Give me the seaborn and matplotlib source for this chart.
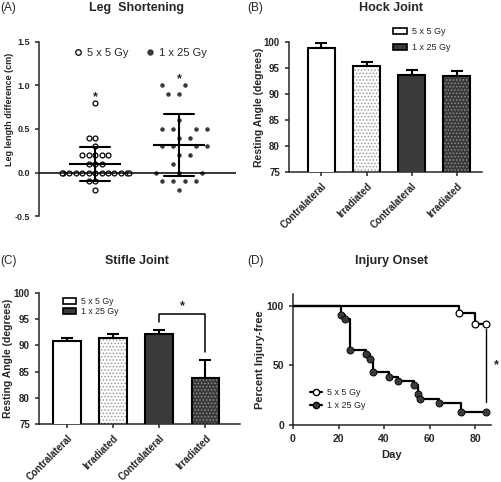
import numpy as np
import pandas as pd
import matplotlib
matplotlib.use('Agg')
import matplotlib.pyplot as plt
from matplotlib.lines import Line2D
from matplotlib.patches import Patch, Rectangle
import seaborn as sns

# ---------------- data ----------------
groups = ['5 x 5 Gy', '1 x 25 Gy']
leg_5x5 = [0.8, 0.4, 0.4, 0.3, 0.2, 0.2, 0.2, 0.2, 0.2, 0.1, 0.1, 0.1,
           0.0, 0.0, 0.0, 0.0, 0.0, 0.0, 0.0, 0.0, 0.0, 0.0, 0.0, 0.0, 0.0,
           -0.1, -0.1, -0.2]
leg_1x25 = [1.0, 1.0, 0.9, 0.9, 0.6, 0.5, 0.5, 0.5, 0.5, 0.4, 0.4,
            0.3, 0.3, 0.3, 0.3, 0.2, 0.2, 0.1, 0.0, 0.0, 0.0,
            -0.1, -0.1, -0.1, -0.1, -0.2]

bar_labels = ['Contralateral', 'Irradiated', 'Contralateral', 'Irradiated']
bar_groups = ['5 x 5 Gy', '5 x 5 Gy', '1 x 25 Gy', '1 x 25 Gy']
hock_mean = [98.8, 95.3, 93.7, 93.5]
hock_err = [1.0, 0.95, 0.85, 0.95]
stifle_mean = [90.9, 91.5, 92.1, 83.8]
stifle_err = [0.5, 0.6, 0.8, 3.4]

day_5x5 = [0, 73, 80, 85]
surv_5x5 = [100, 94.1, 85.0, 85.0]
day_1x25 = [0, 21, 23, 25, 32, 34, 35, 42, 46, 53, 55, 56, 64, 74, 85]
surv_1x25 = [100, 92.6, 88.9, 63.0, 59.3, 55.6, 44.4, 40.7, 37.0, 33.3,
             25.9, 22.2, 18.5, 11.1, 11.1]

# ---------------- style ----------------
sns.set_style('ticks')
plt.rcParams['font.family'] = ['Liberation Sans', 'DejaVu Sans']
plt.rcParams['axes.linewidth'] = 1.1
plt.rcParams['xtick.major.width'] = 1.1
plt.rcParams['ytick.major.width'] = 1.1
plt.rcParams['xtick.major.size'] = 3
plt.rcParams['ytick.major.size'] = 3
plt.rcParams['hatch.linewidth'] = 0.7

DARK = '#3a3a3a'
W, H = 502, 482
fig = plt.figure(figsize=(W / 100, H / 100), dpi=100)


def box(l, t, r, b):
    return [l / W, 1 - b / H, (r - l) / W, (b - t) / H]


axA = fig.add_axes(box(39, 42, 236, 216))
axB = fig.add_axes(box(289, 42, 482, 172))
axC = fig.add_axes(box(39, 293, 240, 424))
axD = fig.add_axes(box(293, 294, 491, 425))

for ax in (axA, axB, axC, axD):
    sns.despine(ax=ax)

# ---------------- panel A ----------------
dfA = pd.DataFrame({'group': [groups[0]] * len(leg_5x5) + [groups[1]] * len(leg_1x25),
                    'value': leg_5x5 + leg_1x25})
sns.swarmplot(data=dfA[dfA.group == groups[0]], x='group', y='value', order=groups,
              color='white', edgecolor='black', linewidth=0.9, size=3.5,
              ax=axA, zorder=3, warn_thresh=1)
sns.swarmplot(data=dfA[dfA.group == groups[1]], x='group', y='value', order=groups,
              color=DARK, edgecolor='white', linewidth=2.1, size=5.4,
              ax=axA, zorder=2, warn_thresh=1)
sns.pointplot(data=dfA, x='group', y='value', order=groups, errorbar='sd',
              capsize=0.36, color='black', marker='_', markersize=38,
              markeredgewidth=1.5, linestyle='none',
              err_kws={'linewidth': 1.5, 'zorder': 6}, zorder=6, ax=axA)
axA.axhline(0, color='black', lw=1.1, zorder=5)
axA.set_xlim(-0.67, 1.68)
axA.set_ylim(-0.5, 1.5)
axA.set_yticks([-0.5, 0.0, 0.5, 1.0, 1.5])
axA.set_yticklabels(['-0.5', '0.0', '0.5', '1.0', '1.5'], fontsize=6.5, fontweight='bold')
axA.spines['bottom'].set_visible(False)
axA.set_xticks([])
axA.set_xlabel('')
axA.set_ylabel('Leg length difference (cm)', fontsize=6.5, fontweight='bold')
axA.yaxis.set_label_coords(-0.125, 0.61)
axA.text(0, 0.87, '*', ha='center', va='center', fontsize=9, fontweight='bold')
axA.text(1, 1.075, '*', ha='center', va='center', fontsize=9, fontweight='bold')
hA = [Line2D([], [], marker='o', ls='none', markerfacecolor='white', markeredgecolor='black',
             markeredgewidth=0.9, markersize=4),
      Line2D([], [], marker='o', ls='none', markerfacecolor=DARK, markeredgecolor=DARK,
             markersize=3.6)]
axA.legend(hA, groups, ncol=2, frameon=False, loc='center', bbox_to_anchor=(0.51, 0.937),
           fontsize=8, handletextpad=0.3, columnspacing=1.4, handlelength=1.0, borderpad=0)

# ---------------- panels B & C ----------------
bar_keys = [f'{g} {l}' for g, l in zip(bar_groups, bar_labels)]
faces = ['white', 'white', DARK, DARK]
hatches = [None, '.....', None, '.....']
hatch_cols = [None, '#9a9a9a', None, '#8c8c8c']


def bar_panel(ax, means, errs, xlim):
    df = pd.DataFrame({'key': bar_keys, 'mean': means})
    sns.barplot(data=df, x='key', y='mean', order=bar_keys, hue='key', hue_order=bar_keys,
                palette=faces, width=0.6, edgecolor='black', linewidth=1.5,
                errorbar=None, legend=False, ax=ax, zorder=3)
    for p, fc, ht, hc in zip(ax.patches[:4], faces, hatches, hatch_cols):
        if ht:
            r = Rectangle((p.get_x(), p.get_y()), p.get_width(), p.get_height(),
                          facecolor=fc, edgecolor=hc, hatch=ht, lw=0, zorder=2.5)
            ax.add_patch(r)
            p.set_facecolor('none')
    xs = ax.get_xticks()
    ax.errorbar(xs, means, yerr=[np.zeros(len(errs)), errs], fmt='none', ecolor='black',
                elinewidth=1.5, capsize=4.3, capthick=1.5, zorder=2)
    ax.set_ylim(75, 100)
    ax.set_yticks([75, 80, 85, 90, 95, 100])
    ax.set_yticklabels(['75', '80', '85', '90', '95', '100'], fontsize=7, fontweight='bold')
    ax.set_xticks(xs)
    ax.set_xticklabels(bar_labels, rotation=45, ha='right', rotation_mode='anchor',
                       fontsize=7, fontweight='bold')
    ax.set_xlim(*xlim)
    ax.set_xlabel('')
    ax.set_ylabel('Resting Angle (degrees)', fontsize=7.5, fontweight='bold')
    ax.yaxis.set_label_coords(-0.13, 0.5)


bar_panel(axB, hock_mean, hock_err, (-0.72, 3.56))
bar_panel(axC, stifle_mean, stifle_err, (-0.61, 3.75))

hBar = [Patch(facecolor='white', edgecolor='black', lw=1.2),
        Patch(facecolor=DARK, edgecolor='black', lw=1.2)]
axB.legend(hBar, groups, frameon=False, loc='upper left', bbox_to_anchor=(0.54, 1.115),
           fontsize=6.5, handlelength=1.5, handleheight=0.7, handletextpad=0.6,
           labelspacing=0.8, borderpad=0, borderaxespad=0)
axC.legend(hBar, groups, frameon=False, loc='upper left', bbox_to_anchor=(0.12, 0.97),
           fontsize=6.3, handlelength=1.5, handleheight=0.7, handletextpad=0.6,
           labelspacing=0.15, borderpad=0, borderaxespad=0)

# significance bracket in C
xs = axC.get_xticks()
axC.plot([xs[2], xs[2], xs[3], xs[3]], [94.5, 96.0, 96.0, 88.7], color='black', lw=1.1,
         clip_on=False, zorder=4)
axC.text((xs[2] + xs[3]) / 2, 97.4, '*', ha='center', va='center', fontsize=9,
         fontweight='bold')

# ---------------- panel D ----------------
dfD = pd.DataFrame({'day': day_5x5 + day_1x25,
                    'surv': surv_5x5 + surv_1x25,
                    'group': [groups[0]] * len(day_5x5) + [groups[1]] * len(day_1x25)})
sns.lineplot(data=dfD, x='day', y='surv', hue='group', hue_order=groups,
             palette=['black', 'black'], drawstyle='steps-post', estimator=None,
             lw=1.6, legend=False, ax=axD, zorder=2)
ev = dfD[dfD.day > 0]
sns.scatterplot(data=ev[ev.group == groups[0]], x='day', y='surv', color='white',
                edgecolor='black', linewidth=0.9, s=24, ax=axD, zorder=3, legend=False)
sns.scatterplot(data=ev[ev.group == groups[1]], x='day', y='surv', color=DARK,
                edgecolor='black', linewidth=0.6, s=26, ax=axD, zorder=3, legend=False)
axD.set_xlim(0, 87)
axD.set_ylim(0, 110)
axD.set_xticks([0, 20, 40, 60, 80])
axD.set_xticklabels(['0', '20', '40', '60', '80'], fontsize=7.5, fontweight='bold')
axD.set_yticks([0, 50, 100])
axD.set_yticklabels(['0', '50', '100'], fontsize=7.5, fontweight='bold')
axD.set_xlabel('Day', fontsize=8, fontweight='bold')
axD.set_ylabel('Percent Injury-free', fontsize=8, fontweight='bold')
axD.yaxis.set_label_coords(-0.141, 0.5)
axD.plot([85, 85], [19.5, 81], color='black', lw=1.0, clip_on=False)
axD.text(89.5, 50, '*', ha='center', va='center', fontsize=9, fontweight='bold',
         clip_on=False)
hD = [Line2D([], [], color='black', lw=1.6, marker='o', markerfacecolor='white',
             markeredgecolor='black', markersize=4.5),
      Line2D([], [], color='black', lw=1.6, marker='o', markerfacecolor=DARK,
             markeredgecolor='black', markersize=4.5)]
axD.legend(hD, groups, frameon=False, loc='upper left', bbox_to_anchor=(0.085, 0.285),
           fontsize=6.5, handlelength=1.3, handletextpad=0.6, labelspacing=0.5,
           borderpad=0, borderaxespad=0)

# ---------------- titles / panel labels ----------------
def ftext(x, y, s, **kw):
    fig.text(x / W, 1 - y / H, s, ha='center', va='center', **kw)


ftext(137, 8, 'Leg  Shortening', fontsize=9, fontweight='bold')
ftext(391, 8, 'Hock Joint', fontsize=9, fontweight='bold')
ftext(137, 261, 'Stifle Joint', fontsize=9, fontweight='bold')
ftext(392, 261, 'Injury Onset', fontsize=9, fontweight='bold')
fig.text(0.5 / W, 1 - 8 / H, '(A)', ha='left', va='center', fontsize=8.5)
fig.text(247 / W, 1 - 8 / H, '(B)', ha='left', va='center', fontsize=8.5)
fig.text(0.5 / W, 1 - 261 / H, '(C)', ha='left', va='center', fontsize=8.5)
fig.text(247 / W, 1 - 261 / H, '(D)', ha='left', va='center', fontsize=8.5)

fig.savefig('out.png', dpi=100)
